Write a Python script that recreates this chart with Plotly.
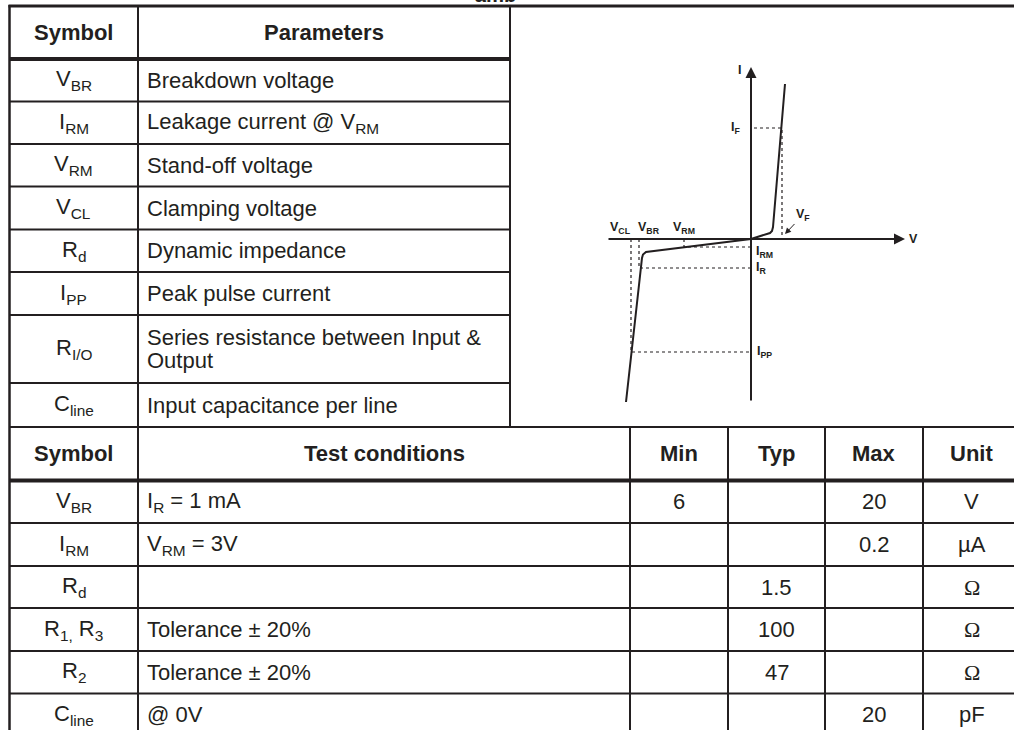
import plotly.graph_objects as go

# ---------------- data ----------------
param_header = ["Symbol", "Parameters"]
param_symbols = ["V<sub>BR</sub>", "I<sub>RM</sub>", "V<sub>RM</sub>", "V<sub>CL</sub>",
                 "R<sub>d</sub>", "I<sub>PP</sub>", "R<sub>I/O</sub>", "C<sub>line</sub>"]
param_names = ["Breakdown voltage", "Leakage current @ V<sub>RM</sub>", "Stand-off voltage",
               "Clamping voltage", "Dynamic impedance", "Peak pulse current",
               "Series resistance between Input &<br>Output", "Input capacitance per line"]

test_header = ["Symbol", "Test conditions", "Min", "Typ", "Max", "Unit"]
test_symbols = ["V<sub>BR</sub>", "I<sub>RM</sub>", "R<sub>d</sub>", "R<sub>1,</sub> R<sub>3</sub>",
                "R<sub>2</sub>", "C<sub>line</sub>"]
test_conditions = ["I<sub>R</sub> = 1 mA", "V<sub>RM</sub> = 3V", "", "Tolerance ± 20%",
                   "Tolerance ± 20%", "@ 0V"]
min_vals = ["6", "", "", "", "", ""]
typ_vals = ["", "", "1.5", "100", "47", ""]
max_vals = ["20", "0.2", "", "", "", "20"]
units = ["V", "µA", "Ω", "Ω", "Ω", "pF"]

# I-V characteristic (schematic units)
v_forward = [0.0, 1.9, 2.1, 2.2, 3.4]
i_forward = [0.0, 0.6, 0.8, 1.2, 15.5]
v_reverse = [0.0, -10.1, -10.5, -10.8, -10.9, -12.5]
i_reverse = [0.0, -1.2, -1.3, -1.55, -1.9, -16.3]
V_F, I_F = 3.1, 11.1
V_RM, I_RM = -6.7, -0.8
V_BR, I_R = -11.2, -2.9
V_CL, I_PP = -12.0, -11.3
V_RANGE = [-14.4, 15.4]
I_RANGE = [-16.3, 17.2]

# ---------------- layout geometry (pixels) ----------------
W, H = 1014, 730
INK = "#231f20"
FONT = "Liberation Sans, Arial, Helvetica, sans-serif"
FS = 22
X_L, X_SYM, X_PAR, X_R = 9.5, 138, 510, 1014
low_cols = [X_SYM, 630, 728, 825, 923, 1020]
top_rows = [6, 59, 101.5, 144, 186.5, 229.5, 272, 315, 383, 427]
bot_rows = [427, 480.5, 523, 566, 608, 651, 693.5, 736]

fig = go.Figure()
fig.add_trace(go.Scatter(x=[0, W], y=[0, H], mode="markers", marker=dict(opacity=0),
                         hoverinfo="skip", xaxis="x", yaxis="y"))

shapes = []
def hline(y, x0, x1, w=2):
    shapes.append(dict(type="line", xref="x", yref="y", x0=x0, x1=x1, y0=y, y1=y,
                       line=dict(color=INK, width=w)))
def vline(x, y0, y1, w=2):
    shapes.append(dict(type="line", xref="x", yref="y", x0=x, x1=x, y0=y0, y1=y1,
                       line=dict(color=INK, width=w)))

# borders
vline(X_L, top_rows[0] - 1, H + 10, 2.5)
vline(X_SYM, top_rows[0], H + 10)
vline(X_PAR, top_rows[0], top_rows[-1])
for c in low_cols[1:-1]:
    vline(c, bot_rows[0], H + 10)
hline(top_rows[0], X_L - 1, X_R, 3)
for i, y in enumerate(top_rows[1:-1]):
    hline(y, X_L, X_PAR, 4 if i == 0 else 2)
hline(top_rows[-1], X_L, X_R, 2)
for i, y in enumerate(bot_rows[1:-1]):
    hline(y, X_L, X_R, 4 if i == 0 else 2)

ann = []
def txt(x, y, s, anchor="center", size=FS, bold=False, family=FONT):
    ann.append(dict(x=x, y=y, xref="x", yref="y", text=(f"<b>{s}</b>" if bold else s),
                    showarrow=False, xanchor=anchor, yanchor="middle", align="left",
                    font=dict(family=family, size=size, color=INK)))

sym_c = (X_L + X_SYM) / 2
# top table
txt(sym_c, (top_rows[0] + top_rows[1]) / 2, param_header[0], bold=True)
txt((X_SYM + X_PAR) / 2, (top_rows[0] + top_rows[1]) / 2, param_header[1], bold=True)
for k, (s, n) in enumerate(zip(param_symbols, param_names)):
    yc = (top_rows[k + 1] + top_rows[k + 2]) / 2
    txt(sym_c, yc, s)
    parts = n.split("<br>")
    step = 23
    for m, p in enumerate(parts):
        txt(X_SYM + 7, yc + (m - (len(parts) - 1) / 2) * step, p, anchor="left")

# bottom table
yc = (bot_rows[0] + bot_rows[1]) / 2
centers = [sym_c] + [(low_cols[j] + low_cols[j + 1]) / 2 for j in range(5)]
for j, h in enumerate(test_header):
    txt(centers[j], yc, h, bold=True)
for k in range(len(test_symbols)):
    yc = (bot_rows[k + 1] + bot_rows[k + 2]) / 2
    txt(sym_c, yc, test_symbols[k])
    txt(X_SYM + 7, yc, test_conditions[k], anchor="left")
    txt(centers[2], yc, min_vals[k])
    txt(centers[3], yc, typ_vals[k])
    txt(centers[4], yc, max_vals[k])
    fam = "Liberation Serif, Times New Roman, serif" if units[k] == "Ω" else FONT
    txt(centers[5], yc, units[k], family=fam)

# cut-off caption remnant at the very top
ann.append(dict(x=455, y=8.5, xref="x", yref="y", text="<b>T<sub>amb</sub> = 25 °C</b>",
                showarrow=False, xanchor="left", yanchor="bottom",
                font=dict(family=FONT, size=29, color=INK)))

# ---------------- I-V diagram ----------------
dx = dict(xaxis="x2", yaxis="y2")
curve = dict(color=INK, width=2)
dot = dict(color=INK, width=1.2, dash="dot")
fig.add_trace(go.Scatter(x=v_forward, y=i_forward, mode="lines", line=curve, hoverinfo="skip", **dx))
fig.add_trace(go.Scatter(x=v_reverse, y=i_reverse, mode="lines", line=curve, hoverinfo="skip", **dx))
# guide lines
fig.add_trace(go.Scatter(x=[0.3, V_F, V_F], y=[I_F, I_F, 0], mode="lines", line=dot, hoverinfo="skip", **dx))
fig.add_trace(go.Scatter(x=[V_RM, V_RM, 0], y=[0, I_RM, I_RM], mode="lines", line=dot, hoverinfo="skip", **dx))
fig.add_trace(go.Scatter(x=[V_BR, V_BR, 0], y=[0, I_R, I_R], mode="lines", line=dot, hoverinfo="skip", **dx))
fig.add_trace(go.Scatter(x=[V_CL, V_CL, 0], y=[0, I_PP, I_PP], mode="lines", line=dot, hoverinfo="skip", **dx))

def arrow(x, y, axv, ayv, w=2, size=1.1):
    ann.append(dict(x=x, y=y, ax=axv, ay=ayv, xref="x2", yref="y2", axref="x2", ayref="y2",
                    text="", showarrow=True, arrowhead=2, arrowwidth=w, arrowsize=size,
                    arrowcolor=INK, standoff=0, startstandoff=0))
arrow(0, I_RANGE[1], 0, I_RANGE[0])          # current axis
arrow(V_RANGE[1], 0, V_RANGE[0], 0)          # voltage axis

def lab(x, y, s, anchor="center", xs=0, ys=0, yanchor="middle"):
    ann.append(dict(x=x, y=y, xref="x2", yref="y2", text=f"<b>{s}</b>", showarrow=False,
                    xanchor=anchor, yanchor=yanchor, xshift=xs, yshift=ys,
                    font=dict(family=FONT, size=12.5, color=INK)))
lab(0, I_RANGE[1], "I", xs=-12, ys=-3)
lab(0, I_F, "I<sub>F</sub>", anchor="right", xs=-9)
lab(V_CL, 0, "V<sub>CL</sub>", xs=-11, ys=1, yanchor="bottom")
lab(V_BR, 0, "V<sub>BR</sub>", xs=10, ys=1, yanchor="bottom")
lab(V_RM, 0, "V<sub>RM</sub>", ys=1, yanchor="bottom")
lab(0, I_RM, "I<sub>RM</sub>", anchor="left", xs=3, ys=-5)
lab(0, I_R, "I<sub>R</sub>", anchor="left", xs=3)
lab(0, I_PP, "I<sub>PP</sub>", anchor="left", xs=4)
lab(V_RANGE[1], 0, "V", xs=8)
# V_F label with small pointer
ann.append(dict(x=V_F + 0.3, y=0.5, xref="x2", yref="y2", text="<b>V<sub>F</sub></b>",
                showarrow=True, ax=18, ay=-19, arrowhead=2, arrowwidth=1, arrowsize=1.2,
                arrowcolor=INK, standoff=0, font=dict(family=FONT, size=12.5, color=INK)))

fig.update_layout(
    width=W, height=H, margin=dict(l=0, r=0, t=0, b=0),
    paper_bgcolor="white", plot_bgcolor="white", showlegend=False,
    xaxis=dict(range=[0, W], domain=[0, 1], visible=False, fixedrange=True),
    yaxis=dict(range=[H, 0], domain=[0, 1], visible=False, fixedrange=True),
    xaxis2=dict(range=V_RANGE, domain=[607 / W, 905 / W], anchor="y2", visible=False),
    yaxis2=dict(range=I_RANGE, domain=[1 - 402 / H, 1 - 67 / H], anchor="x2", visible=False),
    shapes=shapes, annotations=ann,
)
fig.write_html("out.html", config={"displayModeBar": False, "staticPlot": True},
               post_script="document.body.style.margin='0';document.body.style.overflow='hidden';")
